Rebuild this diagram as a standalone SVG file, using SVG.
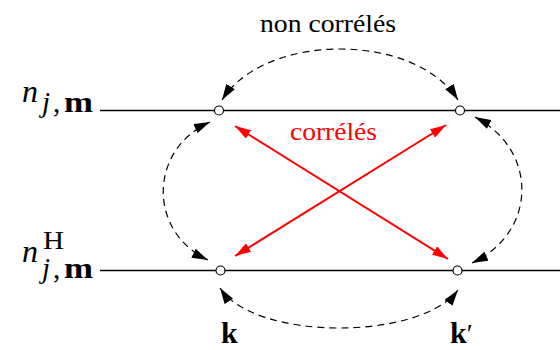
<svg xmlns="http://www.w3.org/2000/svg" width="560" height="350" viewBox="0 0 560 350">
<style>
.ln{stroke:#000;stroke-width:1.5;fill:none}
.ds{stroke:#000;stroke-width:1.2;fill:none;stroke-dasharray:7 5;marker-start:url(#ab);marker-end:url(#ab)}
.rd{stroke:#f00;stroke-width:2;fill:none;marker-start:url(#ar);marker-end:url(#ar)}
.nd{fill:#fff;stroke:#000;stroke-width:1.2}
text{font-family:"Liberation Serif","Times New Roman",serif}
</style>
<defs>
<marker id="ab" viewBox="0 0 16 10" refX="16" refY="5" markerWidth="16" markerHeight="10" markerUnits="userSpaceOnUse" orient="auto-start-reverse"><path d="M0,0 L16,5 L0,10 Z" fill="#000"/></marker>
<marker id="ar" viewBox="0 0 16 10" refX="16" refY="5" markerWidth="16" markerHeight="10" markerUnits="userSpaceOnUse" orient="auto-start-reverse"><path d="M0,0 L16,5 L0,10 Z" fill="#f00"/></marker>
</defs>
<g id="lines">
<line class="ln" x1="100" y1="110.5" x2="560" y2="110.5"/>
<line class="ln" x1="100" y1="270.5" x2="560" y2="270.5"/>
</g>
<g id="connectors">
<path class="ds" d="M222,100 C265,32 415,32 458,100"/>
<path class="ds" d="M220,288 C255,341 420,341 458,290"/>
<path class="ds" d="M210,122 C148,150 148,232 208,260"/>
<path class="ds" d="M475,117 C538,150 538,232 472,263"/>
<path class="rd" d="M235,126 L448,259"/>
<path class="rd" d="M446,125 L235,256"/>
</g>
<g id="n1"><circle class="nd" cx="219" cy="110.5" r="4.5"/></g>
<g id="n2"><circle class="nd" cx="460" cy="110.5" r="4.5"/></g>
<g id="n3"><circle class="nd" cx="220.5" cy="270.5" r="4.5"/></g>
<g id="n4"><circle class="nd" cx="457.5" cy="270.5" r="4.5"/></g>
<g id="labels">
<text x="260" y="32" font-family="Liberation Serif, serif" font-size="26" textLength="136" lengthAdjust="spacingAndGlyphs">non corrélés</text>
<text x="290" y="140" font-family="Liberation Serif, serif" font-size="26" fill="#f00" textLength="87" lengthAdjust="spacingAndGlyphs">corrélés</text>
<text x="22" y="102" font-family="Liberation Serif, serif" font-size="32" font-style="italic">n</text>
<text y="112" font-family="Liberation Serif, serif" font-size="29"><tspan x="42" font-style="italic">j</tspan><tspan x="53">,</tspan><tspan x="64" font-weight="bold" textLength="29" lengthAdjust="spacingAndGlyphs">m</tspan></text>
<text x="22" y="262" font-family="Liberation Serif, serif" font-size="32" font-style="italic">n</text>
<text x="43" y="249" font-family="Liberation Serif, serif" font-size="25" textLength="21" lengthAdjust="spacingAndGlyphs">H</text>
<text y="278" font-family="Liberation Serif, serif" font-size="29"><tspan x="42" font-style="italic">j</tspan><tspan x="53">,</tspan><tspan x="64" font-weight="bold" textLength="29" lengthAdjust="spacingAndGlyphs">m</tspan></text>
<text x="221" y="343" font-family="Liberation Serif, serif" font-size="30" font-weight="bold">k</text>
<text x="450" y="343" font-family="Liberation Serif, serif" font-size="30" font-weight="bold">k<tspan font-weight="normal" font-size="27">′</tspan></text>
</g>
</svg>
